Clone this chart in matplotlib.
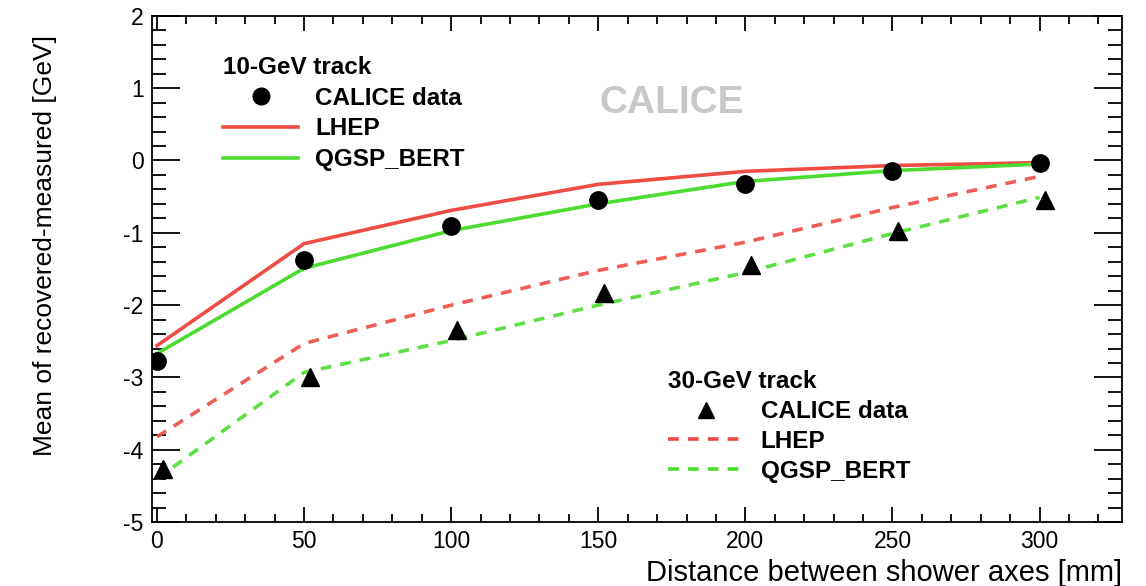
import matplotlib
matplotlib.use('Agg')
import matplotlib.pyplot as plt
from matplotlib.ticker import MultipleLocator
from matplotlib.lines import Line2D

plt.rcParams['font.family'] = ['Liberation Sans', 'DejaVu Sans']
plt.rcParams['axes.unicode_minus'] = False

# distances [mm]
dist = [0, 50, 100, 150, 200, 250, 300]
dist_tri = [2, 52, 102, 152, 202, 252, 302]

# 10-GeV track
data10 = [-2.77, -1.38, -0.91, -0.55, -0.32, -0.15, -0.04]
lhep10 = [-2.56, -1.15, -0.69, -0.33, -0.15, -0.07, -0.03]
qgsp10 = [-2.67, -1.49, -0.97, -0.60, -0.29, -0.14, -0.05]

# 30-GeV track
data30 = [-4.26, -2.99, -2.35, -1.83, -1.44, -0.98, -0.55]
lhep30 = [-3.82, -2.53, -2.00, -1.52, -1.13, -0.65, -0.22]
qgsp30 = [-4.40, -2.93, -2.49, -2.00, -1.55, -1.01, -0.51]

labels = ['CALICE data', 'LHEP', 'QGSP_BERT']

RED = '#ee4c44'
GREEN = '#4cdc30'
DASH = (0, (3, 2.5))
LW = 2.6

fig = plt.figure(figsize=(11.46, 5.86), dpi=100)
ax = fig.add_axes([0.1326, 0.109, 0.8464, 0.864])

ax.plot(dist, lhep10, color=RED, lw=LW)
ax.plot(dist, qgsp10, color=GREEN, lw=LW)
ax.plot(dist, lhep30, color=RED, lw=LW, ls=DASH, alpha=0.9)
ax.plot(dist, qgsp30, color=GREEN, lw=LW, ls=DASH, alpha=0.9)
ax.plot(dist, data10, 'o', color='black', ms=12.5, zorder=5)
ax.plot(dist_tri, data30, '^', color='black', ms=13.5, zorder=5)

ax.set_xlim(-1.7, 328)
ax.set_ylim(-5, 2)
ax.xaxis.set_major_locator(MultipleLocator(50))
ax.xaxis.set_minor_locator(MultipleLocator(10))
ax.yaxis.set_major_locator(MultipleLocator(1))
ax.yaxis.set_minor_locator(MultipleLocator(0.2))
ax.tick_params(which='both', direction='in', top=True, right=True, labelsize=16.5, width=1.3)
ax.tick_params(axis='x', which='major', length=11, pad=6)
ax.tick_params(axis='x', which='minor', length=6)
ax.tick_params(axis='y', which='major', length=20, pad=6)
ax.tick_params(axis='y', which='minor', length=10)
for s in ax.spines.values():
    s.set_linewidth(1.3)

ax.set_xlabel('Distance between shower axes [mm]', fontsize=21, loc='right', labelpad=4)
ax.set_ylabel('Mean of recovered-measured [GeV]', fontsize=19, loc='top')
ax.yaxis.set_label_coords(-0.098, 0.962)

ax.text(175, 0.79, 'CALICE', color='#c8c8c8', fontsize=28, fontweight='bold',
        ha='center', va='center')

h10 = [Line2D([], [], ls='none', marker='o', color='black', ms=12),
       Line2D([], [], color=RED, lw=LW),
       Line2D([], [], color=GREEN, lw=LW)]
h30 = [Line2D([], [], ls='none', marker='^', color='black', ms=12),
       Line2D([], [], color=RED, lw=LW, ls=DASH),
       Line2D([], [], color=GREEN, lw=LW, ls=DASH)]

kw = dict(frameon=False, handlelength=3.1, handletextpad=0.7,
          borderpad=0.25, borderaxespad=0, alignment='left',
          prop={'weight': 'bold', 'size': 17.5},
          title_fontproperties={'weight': 'bold', 'size': 17.5}, loc='upper left')
leg1 = ax.legend(h10, labels, title='10-GeV track', labelspacing=0.32,
                 bbox_to_anchor=(0.067, 0.933), **kw)
ax.add_artist(leg1)
ax.legend(h30, labels, title='30-GeV track', labelspacing=0.28,
          bbox_to_anchor=(0.526, 0.312), **kw)

fig.savefig('out.png', dpi=100)
